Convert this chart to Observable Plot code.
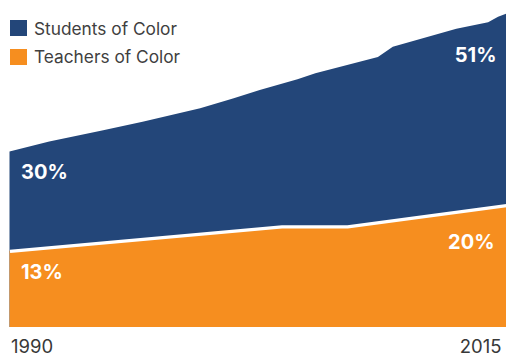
<!DOCTYPE html>
<html>
<head>
<meta charset="utf-8">
<script src="https://cdn.jsdelivr.net/npm/d3@7"></script>
<script src="https://cdn.jsdelivr.net/npm/@observablehq/plot@0.6"></script>
<style>
  html, body { margin: 0; padding: 0; background: #fff; }
  #wrap { position: relative; width: 507px; height: 360px; font-family: Inter, "Noto Sans", sans-serif; }
  #legend { position: absolute; left: 10px; top: 14px; }
  .item { display: flex; align-items: center; height: 28.5px; font-size: 17.3px; color: #404040; }
  .sw { width: 16.5px; height: 16px; margin-right: 7.5px; }
</style>
</head>
<body>
<div id="wrap"><div id="legend"></div></div>
<script>
// Series names and colours
const seriesNames = ["Students of Color", "Teachers of Color"];
const seriesColors = ["#234679", "#f68e1f"];

// Students of color share (%)
const studentYears = [1990, 1992, 1994.6, 1996.7, 1999.6, 2001.25, 2002.6, 2004.5, 2005.4, 2008.55, 2009.3, 2012.5, 2014.1, 2014.6, 2015];
const studentShare = [29.25, 30.9, 32.7, 34.2, 36.45, 38.1, 39.5, 41.3, 42.3, 45.0, 46.7, 49.7, 50.8, 51.7, 52.2];

// Teachers of color share (%)
const teacherYears = [1990, 2003.7, 2007.0, 2015];
const teacherShare = [12.7, 16.77, 16.77, 20.33];

// Labels
const startLabels = ["30%", "13%"];
const endLabels = ["51%", "20%"];
const xTicks = [1990, 2015];

const students = studentYears.map((year, i) => ({year, value: studentShare[i]}));
const teachers = teacherYears.map((year, i) => ({year, value: teacherShare[i]}));

const font = "Inter, 'Noto Sans', sans-serif";

const chart = Plot.plot({
  width: 507,
  height: 360,
  marginLeft: 9.5,
  marginRight: 1,
  marginTop: 0,
  marginBottom: 33,
  style: {fontFamily: font, background: "#fff"},
  x: {domain: [1990, 2015], axis: null},
  y: {domain: [0, 54.5], axis: null},
  marks: [
    Plot.areaY(students, {x: "year", y: "value", fill: seriesColors[0], curve: "linear"}),
    Plot.areaY(teachers, {x: "year", y: "value", fill: seriesColors[1], curve: "linear"}),
    Plot.lineY(teachers, {x: "year", y: "value", stroke: "#fff", strokeWidth: 3.3, strokeLinecap: "butt"}),
    Plot.text([students[0]], {x: "year", y: "value", text: () => startLabels[0], textAnchor: "start", dx: 11, dy: 20.7, fill: "#fff", fontWeight: 700, fontSize: 20, fontFamily: font}),
    Plot.text([teachers[0]], {x: "year", y: "value", text: () => startLabels[1], textAnchor: "start", dx: 11, dy: 21.5, fill: "#fff", fontWeight: 700, fontSize: 20, fontFamily: font}),
    Plot.text([students[students.length - 1]], {x: "year", y: "value", text: () => endLabels[0], textAnchor: "end", dx: -10, dy: 41, fill: "#fff", fontWeight: 700, fontSize: 20, fontFamily: font}),
    Plot.text([teachers[teachers.length - 1]], {x: "year", y: "value", text: () => endLabels[1], textAnchor: "end", dx: -12, dy: 37.5, fill: "#fff", fontWeight: 700, fontSize: 20, fontFamily: font}),
    Plot.text([xTicks[0]], {x: d => d, frameAnchor: "bottom", text: d => String(d), textAnchor: "start", dx: 1, dy: 25, fill: "#383838", fontSize: 18.5, fontFamily: font}),
    Plot.text([xTicks[1]], {x: d => d, frameAnchor: "bottom", text: d => String(d), textAnchor: "end", dx: -5, dy: 25, fill: "#383838", fontSize: 18.5, fontFamily: font})
  ]
});

const wrap = document.getElementById("wrap");
wrap.insertBefore(chart, wrap.firstChild);

const legend = document.getElementById("legend");
seriesNames.forEach((name, i) => {
  const item = document.createElement("div");
  item.className = "item";
  const sw = document.createElement("div");
  sw.className = "sw";
  sw.style.background = seriesColors[i];
  const label = document.createElement("span");
  label.textContent = name;
  item.appendChild(sw);
  item.appendChild(label);
  legend.appendChild(item);
});
</script>
</body>
</html>
